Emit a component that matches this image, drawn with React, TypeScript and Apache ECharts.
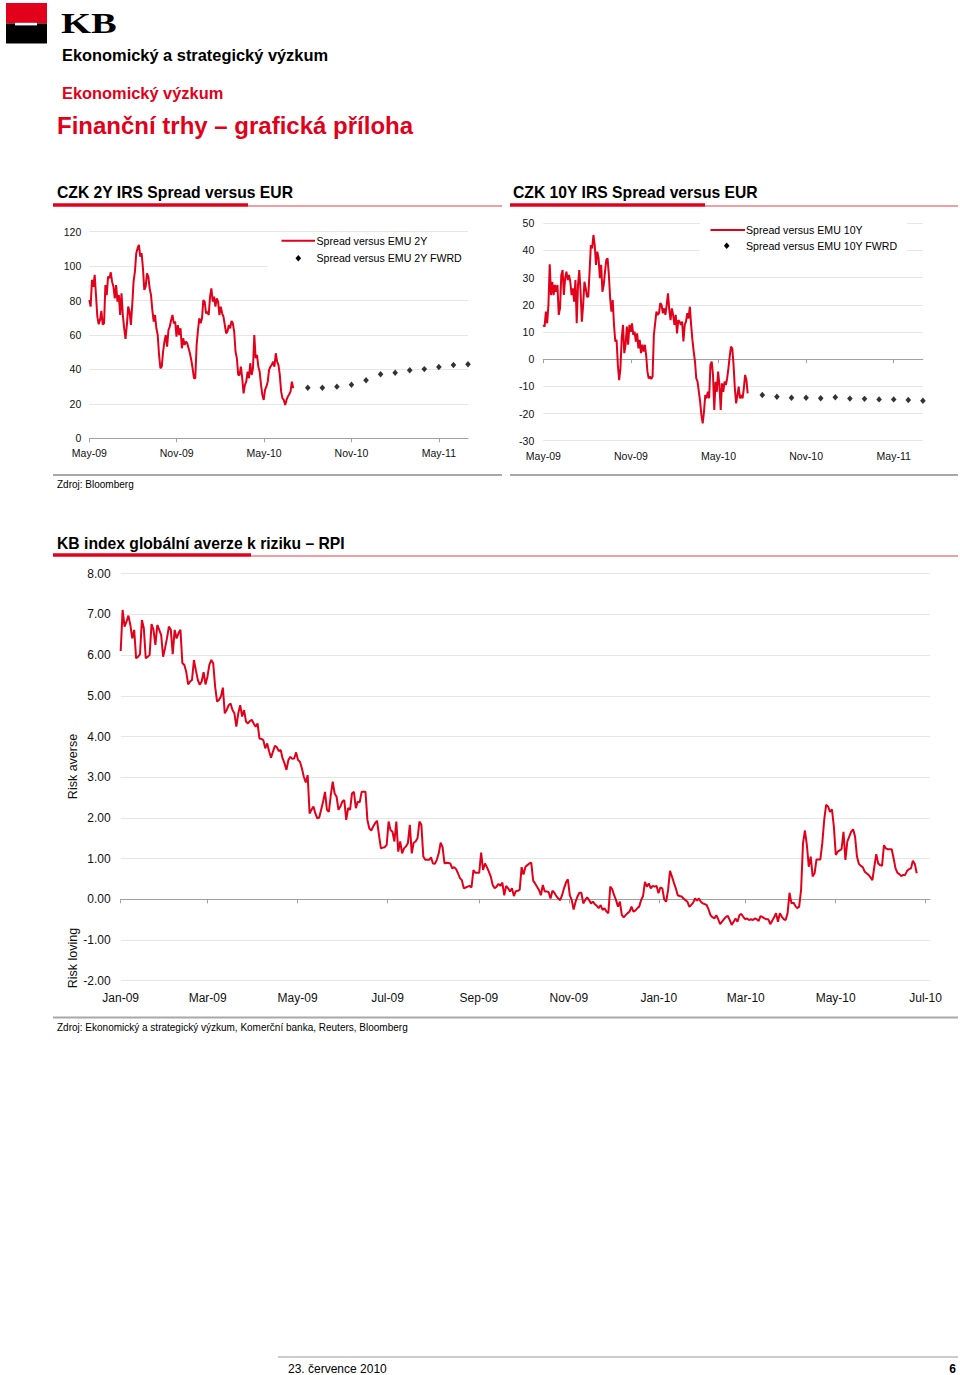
import React, { useEffect, useRef } from 'react';
import * as echarts from 'echarts';

const RED = '#e2001a';
const FONT = '"Liberation Sans", Arial, Helvetica, sans-serif';
const GRID_COLOR = '#e6e6e6';
const AXIS_COLOR = '#a0a0a0';
const TEXT_COLOR = '#111';

// ---------- Chart 1 & 2: CZK IRS spreads (x axis in months from May-09) ----------
const spreadTickLabels = ['May-09', 'Nov-09', 'May-10', 'Nov-10', 'May-11'];
const spreadAxisStart = '2009-05';
const spreadAxisEnd = '2011-07';
const spreadHistStart = '2009-05';
const spreadHistEnd = '2010-07';
const fwdMonths = ['2010-08', '2010-09', '2010-10', '2010-11', '2010-12', '2011-01', '2011-02', '2011-03', '2011-04', '2011-05', '2011-06', '2011-07'];

const spread2Y = [
  80.3, 76.5, 92, 88, 95, 83, 70.7, 66.2, 68.7, 74, 66, 66.8, 89, 83.2, 93.9, 93, 96.4, 91, 88, 81.3,
  89, 79.4, 83.2, 71.6, 84.2, 71.6, 63.9, 57.7, 65.8, 76.5, 73.6, 65.8, 77.4, 91, 96.8, 107.5, 110.4, 112.3, 105.5, 107.5,
  98.7, 86.2, 88.1, 95.8, 93.9, 87.1, 83.2, 74.5, 67.8, 71.6, 63.9, 60, 48.4, 40.7, 41.6, 50.3, 56.1, 60, 53.2, 62.9,
  64.9, 68.7, 71.6, 66.8, 67.8, 59.1, 65.8, 60, 63.9, 52.3, 58.1, 54.2, 56.1, 55.2, 52.3, 49.4, 45.5, 40.7, 34.9, 34.9,
  54.2, 62.9, 69.7, 66.8, 69.7, 80.3, 79.4, 72.6, 73.6, 71.6, 82.3, 87.1, 79.4, 82.3, 76.5, 81.3, 79.4, 71.6, 76.5, 72.6,
  70.7, 65.8, 61, 62, 65.8, 63.9, 68.2, 66.8, 62, 50.3, 46.5, 36.8, 36.8, 41.6, 34.9, 26.1, 31, 32.9, 38.7, 34.9,
  43.6, 36.8, 40.7, 60, 46.5, 48.4, 41.6, 38.7, 31, 25.2, 22.3, 28.1, 30, 32.9, 39.7, 41.6, 42.6, 44.5, 41.6, 49.4,
  44.5, 42.6, 36.8, 27.1, 23.2, 22.3, 19.4, 22.3, 24.2, 25.6, 27.1, 32.9, 29.1,
];
const fwd2Y = [29.4, 29.4, 30.0, 31.1, 33.7, 37.2, 38.1, 39.5, 40.2, 41.4, 42.6, 43.0];

const spread10Y = [
  12.6, 12, 17.5, 13.2, 20, 34.9, 23.6, 28.5, 23.6, 27.3, 24.8, 27.3, 16.3, 18.7, 31, 32.8, 23.6, 29.8, 32.2, 29.1,
  31, 28.5, 23.6, 26.1, 21.2, 29.1, 13.2, 27.3, 32.8, 24.8, 13.8, 20, 28.5, 26.1, 23, 23, 32.2, 42, 40.8, 45.7,
  42, 34.7, 39.6, 37.1, 29.8, 34.7, 24.8, 27.3, 32.2, 36.5, 37.1, 31, 22.4, 17.5, 21.8, 12.6, 6.5, 7.1, -2.1, -7.7,
  -3.4, 7.7, 12.6, 2.2, 5.3, 12, 5.3, 12.6, 10.1, 13.2, 8.9, 10.1, 6.5, 9.5, 4, 7.1, 2.2, 5.3, 2.8, 5.3,
  1.5, -4.6, -7.1, -6.4, -7.3, -6.4, 8.9, 13.2, 17.5, 16.3, 16.9, 20.6, 20, 16.9, 18.7, 16.3, 20, 24.2, 18.1, 14.4,
  18.7, 16.3, 12.6, 16.3, 9.5, 14.4, 13.8, 12.6, 13.8, 6.5, 12.6, 13.8, 16.9, 15, 19.3, 12.6, 7.1, 2.8, -0.9, -7.1,
  -8.3, -12, -15.6, -20.6, -23.6, -19.3, -13.2, -14.4, -12, -14.4, -2.1, -0.9, -5.8, -18.7, -8.3, -12, -4.6, -9.5, -18.7, -8.9,
  -12, -8.3, -9.5, -7.1, -3.4, 1, 4.6, 4, -2.1, -10.7, -16.3, -13.2, -10.1, -14.4, -13.2, -14.4, -10.7, -5.8, -7.7, -12.6,
];
const fwd10Y = [-13.2, -13.8, -14.2, -14.2, -14.4, -14.0, -14.5, -14.6, -14.8, -14.8, -15.0, -15.3];

// ---------- Chart 3: KB risk perception index ----------
const rpiTickMonths = ['2009-01', '2009-03', '2009-05', '2009-07', '2009-09', '2009-11', '2010-01', '2010-03', '2010-05', '2010-07'];
const rpiAxisStart = '2009-01-01';
const rpiAxisEnd = '2010-07-04';
const rpiStart = '2009-01-01';
const rpiEnd = '2010-06-25';
const rpiValues = [
  6.10, 7.11, 6.70, 6.82, 6.97, 6.74, 6.41, 6.62, 5.92, 5.96,
  6.02, 6.86, 6.66, 5.92, 5.96, 6.00, 6.76, 6.62, 6.25, 6.74,
  6.62, 6.49, 5.96, 6.17, 6.41, 6.70, 6.62, 6.02, 6.62, 6.41,
  6.54, 6.62, 5.80, 5.76, 5.59, 5.28, 5.35, 5.39, 5.88, 5.63,
  5.39, 5.27, 5.35, 5.58, 5.28, 5.47, 5.76, 5.88, 5.80, 5.22,
  4.86, 4.90, 4.98, 5.20, 4.57, 4.65, 4.77, 4.81, 4.65, 4.57,
  4.24, 4.57, 4.77, 4.49, 4.65, 4.37, 4.32, 4.38, 4.41, 4.32,
  4.24, 4.32, 3.95, 3.94, 3.91, 3.71, 3.83, 3.63, 3.48, 3.63,
  3.77, 3.74, 3.64, 3.67, 3.46, 3.34, 3.18, 3.42, 3.50, 3.45,
  3.46, 3.61, 3.42, 3.38, 3.22, 3.01, 2.87, 3.05,
  2.11, 2.20, 2.28, 2.11, 1.99, 2.01, 2.20, 2.40, 2.64, 2.20,
  2.15, 2.56, 2.89, 2.60, 2.52, 2.20, 2.28, 2.40, 2.44, 1.95,
  2.24, 2.20, 2.60, 2.64, 2.24, 2.40, 2.38, 2.64, 2.64, 2.64,
  1.95, 1.74, 1.69, 1.79, 1.87, 1.93, 1.58, 1.25, 1.27, 1.28,
  1.34, 1.91, 1.70, 1.66, 1.42, 1.91, 1.17, 1.42, 1.13, 1.25,
  1.30, 1.38, 1.83, 1.13, 1.39, 1.42, 1.50, 1.91, 1.83, 1.05,
  0.97, 0.97, 0.97, 1.03, 0.88, 0.87, 0.97, 1.13, 1.39, 1.28,
  0.88, 0.90, 0.89, 0.88, 0.76, 0.79, 0.74, 0.64, 0.52, 0.47,
  0.27, 0.29, 0.31, 0.33, 0.29, 0.72, 0.65, 0.65, 0.65, 1.15,
  0.72, 0.88, 0.79, 0.68, 0.56, 0.35, 0.27, 0.31, 0.38,
  0.33, 0.41, 0.10, 0.33, 0.27, 0.19, 0.27, 0.08, 0.20, 0.21,
  0.23, 0.79, 0.61, 0.80, 0.84, 0.88, 0.90, 0.46, 0.39, 0.31,
  0.23, 0.10, 0.35, 0.19, 0.19, 0.18, 0.02, 0.21, 0.16, 0.08,
  0.02, -0.02, 0.10, 0.27, 0.41, 0.49, 0.10, -0.02, -0.25, -0.06,
  0.07, 0.16, 0.16, -0.10, -0.02, 0.05, -0.02, -0.10, -0.06, -0.12,
  -0.16, -0.22, -0.14, -0.26, -0.22, -0.30, -0.34, 0.31, 0.25, 0.10,
  -0.02, -0.18, -0.06, -0.39, -0.44, -0.39, -0.34, -0.30, -0.18, -0.30,
  -0.28, -0.22, -0.18, -0.02, 0.08, 0.43, 0.31, 0.39, 0.27, 0.33,
  0.31, 0.33, 0.15, 0.29, 0.27, 0.00, -0.06, 0.23, 0.70, 0.56,
  0.41, 0.27, 0.10, 0.08, 0.07, 0.02, -0.02, -0.06, -0.18, -0.14,
  -0.08, 0.02, -0.03, 0.02, -0.06, -0.10, -0.12, -0.14, -0.25, -0.39,
  -0.44, -0.47, -0.39, -0.49, -0.61, -0.55, -0.49, -0.43, -0.41, -0.51,
  -0.63, -0.55, -0.47, -0.55, -0.39, -0.36, -0.43, -0.49, -0.47, -0.51,
  -0.49, -0.51, -0.47, -0.49, -0.53, -0.41, -0.44, -0.47, -0.49, -0.49,
  -0.61, -0.53, -0.44, -0.34, -0.55, -0.34, -0.43, -0.49, -0.51, -0.34,
  0.16, -0.10, -0.08, -0.16, -0.22, -0.18, 0.23, 1.38, 1.69, 1.33,
  0.80, 1.05, 0.56, 0.64, 0.98, 0.98, 0.98, 1.38, 1.95, 2.32,
  2.28, 2.15, 2.21, 1.79, 1.09, 1.17, 1.20, 1.23, 1.66, 0.97,
  1.42, 1.54, 1.66, 1.72, 1.54, 1.05, 0.87, 0.82, 0.79, 0.68,
  0.64, 0.60, 0.54, 0.47, 0.80, 1.11, 0.88, 0.84, 0.82, 1.33,
  1.25, 1.23, 1.23, 1.23, 1.01, 0.76, 0.65, 0.62, 0.57, 0.60,
  0.60, 0.70, 0.74, 0.76, 0.95, 0.87, 0.64,
];

// ---------- helpers ----------
const MON = ['Jan', 'Feb', 'Mar', 'Apr', 'May', 'Jun', 'Jul', 'Aug', 'Sep', 'Oct', 'Nov', 'Dec'];
const monthIdx = (s: string) => {
  const [y, m] = s.split('-').map(Number);
  const [by, bm] = spreadAxisStart.split('-').map(Number);
  return (y - by) * 12 + (m - bm);
};
const ts = (s: string) => {
  const p = s.split('-').map(Number);
  return Date.UTC(p[0], p[1] - 1, p[2] || 1);
};
const evenSeries = (vals: number[], a: number, b: number) =>
  vals.map((v, i) => [a + (i * (b - a)) / (vals.length - 1), v]);

const spreadTicks = spreadTickLabels.map((_, i) => i * 6);
const spreadFmt = (v: number) => spreadTickLabels[Math.round(v / 6)] ?? '';
const rpiTicks = rpiTickMonths.map((m) => ts(m));
const rpiFmt = (v: number) => {
  const d = new Date(v);
  return `${MON[d.getUTCMonth()]}-${String(d.getUTCFullYear() % 100).padStart(2, '0')}`;
};

const txt = (text: string, x: number, y: number, font: string, fill = TEXT_COLOR, extra: any = {}) => ({
  type: 'text',
  x,
  y,
  z: 100,
  ...extra,
  style: { text, font, fill, textAlign: extra.align || 'left', textVerticalAlign: 'middle' },
});
const hline = (x1: number, x2: number, y: number, stroke: string, lineWidth: number) => ({
  type: 'line',
  z: 100,
  shape: { x1, y1: y, x2, y2: y },
  style: { stroke, lineWidth },
});
const diamond = (x: number, y: number) => ({
  type: 'polygon',
  z: 101,
  shape: { points: [[x, y - 3.2], [x + 2.8, y], [x, y + 3.2], [x - 2.8, y]] },
  style: { fill: '#000' },
});

function buildOption(): any {
  const histA = monthIdx(spreadHistStart);
  const histB = monthIdx(spreadHistEnd);
  const axMax = monthIdx(spreadAxisEnd);
  const fwdX = fwdMonths.map((m) => monthIdx(m));

  const titleFont = `bold 15.7px ${FONT}`;
  const legendFont = `10.6px ${FONT}`;
  const srcFont = `10px ${FONT}`;

  const spreadXAxis = (grid: number, opts: any) => ({
    type: 'value',
    gridIndex: grid,
    min: 0,
    max: axMax,
    position: 'bottom',
    splitLine: { show: false },
    ...opts,
  });

  const graphic: any[] = [
    // logo
    { type: 'rect', z: 100, shape: { x: 6, y: 3, width: 41, height: 20.5 }, style: { fill: RED } },
    { type: 'rect', z: 100, shape: { x: 6, y: 23.5, width: 41, height: 20 }, style: { fill: '#000' } },
    { type: 'rect', z: 101, shape: { x: 15, y: 22.8, width: 22, height: 2.6 }, style: { fill: '#fff' } },
    txt('KB', 61, 23.5, `bold 29px "Liberation Serif", "DejaVu Serif", serif`, '#000', { scaleX: 1.33 }),
    txt('Ekonomický a strategický výzkum', 62, 54.5, `bold 16.4px ${FONT}`, '#000'),
    txt('Ekonomický výzkum', 62, 93, `bold 16.4px ${FONT}`, RED),
    txt('Finanční trhy – grafická příloha', 57, 125, `bold 24px ${FONT}`, RED),

    // section titles
    txt('CZK 2Y IRS Spread versus EUR', 57, 192.5, titleFont, '#000'),
    hline(53, 248, 205, RED, 3.3),
    hline(248, 502, 206, '#e04048', 1),
    txt('CZK 10Y IRS Spread versus EUR', 513, 192.5, titleFont, '#000'),
    hline(510, 705, 205, RED, 3.3),
    hline(705, 958, 206, '#e04048', 1),

    // legend chart 1
    { type: 'rect', z: 99, shape: { x: 268, y: 234, width: 202, height: 36 }, style: { fill: '#fff' } },
    hline(281.5, 315, 240.7, RED, 2),
    txt('Spread versus EMU 2Y', 316.5, 240.7, legendFont, '#000'),
    diamond(298.3, 258.3),
    txt('Spread versus EMU 2Y FWRD', 316.5, 258.3, legendFont, '#000'),

    // legend chart 2
    { type: 'rect', z: 99, shape: { x: 700, y: 217, width: 207, height: 38 }, style: { fill: '#fff' } },
    hline(710.5, 745, 230, RED, 2),
    txt('Spread versus EMU 10Y', 746, 230, legendFont, '#000'),
    diamond(726.7, 245.7),
    txt('Spread versus EMU 10Y FWRD', 746, 245.7, legendFont, '#000'),

    hline(53, 502, 475, '#a8a8a8', 2),
    hline(510, 958, 475, '#a8a8a8', 2),
    txt('Zdroj: Bloomberg', 57, 484.5, srcFont, '#000'),

    // chart 3 title
    txt('KB index globální averze k riziku – RPI', 57, 543, titleFont, '#000'),
    hline(53, 251, 555, RED, 3.3),
    hline(251, 958, 556, '#e04048', 1),
    txt('Risk averse', 73, 766.5, `12.5px ${FONT}`, TEXT_COLOR, { rotation: Math.PI / 2, align: 'center' }),
    txt('Risk loving', 73, 958, `12.5px ${FONT}`, TEXT_COLOR, { rotation: Math.PI / 2, align: 'center' }),
    hline(53, 958, 1017.5, '#a8a8a8', 2),
    txt('Zdroj: Ekonomický a strategický výzkum, Komerční banka, Reuters, Bloomberg', 57, 1027.5, srcFont, '#000'),

    // footer
    hline(278, 958, 1357, '#9a9a9a', 1),
    txt('23. července 2010', 288, 1369, `12px ${FONT}`, '#000'),
    txt('6', 956, 1369, `bold 12px ${FONT}`, '#000', { align: 'right' }),
  ];

  const yAxisBase = (grid: number, min: number, max: number, interval: number, fontSize: number, margin: number, fmt?: any) => ({
    type: 'value',
    gridIndex: grid,
    min,
    max,
    interval,
    axisLine: { show: false },
    axisTick: { show: false },
    axisLabel: { fontSize, margin, color: TEXT_COLOR, fontFamily: FONT, formatter: fmt },
    splitLine: { show: true, lineStyle: { color: GRID_COLOR, width: 1 } },
  });

  return {
    animation: false,
    backgroundColor: '#fff',
    textStyle: { fontFamily: FONT },
    grid: [
      { left: 89.3, top: 231.7, width: 378.7, height: 206.6 },
      { left: 543.3, top: 223.3, width: 379.6, height: 217.4 },
      { left: 120.7, top: 573.7, width: 809.3, height: 407 },
    ],
    xAxis: [
      spreadXAxis(0, {
        axisLine: { show: true, lineStyle: { color: AXIS_COLOR, width: 1 } },
        axisTick: { show: true, length: 4, customValues: spreadTicks, lineStyle: { color: AXIS_COLOR } },
        axisLabel: { customValues: spreadTicks, formatter: spreadFmt, fontSize: 10.5, margin: 9, color: TEXT_COLOR },
      }),
      spreadXAxis(1, {
        axisLine: { show: false, onZero: false },
        axisTick: { show: false },
        axisLabel: { customValues: spreadTicks, formatter: spreadFmt, fontSize: 10.5, margin: 10, color: TEXT_COLOR },
      }),
      spreadXAxis(1, {
        axisLine: { show: true, onZero: true, lineStyle: { color: AXIS_COLOR, width: 1 } },
        axisTick: { show: true, length: 4, customValues: spreadTicks, lineStyle: { color: AXIS_COLOR } },
        axisLabel: { show: false },
      }),
      {
        type: 'value',
        gridIndex: 2,
        min: ts(rpiAxisStart),
        max: ts(rpiAxisEnd),
        position: 'bottom',
        splitLine: { show: false },
        axisLine: { show: false, onZero: false },
        axisTick: { show: false },
        axisLabel: { customValues: rpiTicks, formatter: rpiFmt, fontSize: 12, margin: 11, color: TEXT_COLOR },
      },
      {
        type: 'value',
        gridIndex: 2,
        min: ts(rpiAxisStart),
        max: ts(rpiAxisEnd),
        position: 'bottom',
        splitLine: { show: false },
        axisLine: { show: true, onZero: true, lineStyle: { color: AXIS_COLOR, width: 1 } },
        axisTick: { show: true, length: 4, customValues: rpiTicks, lineStyle: { color: AXIS_COLOR } },
        axisLabel: { show: false },
      },
    ],
    yAxis: [
      yAxisBase(0, 0, 120, 20, 10.5, 8),
      yAxisBase(1, -30, 50, 10, 10.5, 9),
      yAxisBase(2, -2, 8, 1, 12, 10, (v: number) => v.toFixed(2)),
    ],
    series: [
      {
        name: 'Spread versus EMU 2Y',
        type: 'line',
        xAxisIndex: 0,
        yAxisIndex: 0,
        data: evenSeries(spread2Y, histA, histB),
        symbol: 'none',
        lineStyle: { color: RED, width: 2 },
        z: 5,
      },
      {
        name: 'Spread versus EMU 2Y FWRD',
        type: 'scatter',
        xAxisIndex: 0,
        yAxisIndex: 0,
        data: fwdX.map((x, i) => [x, fwd2Y[i]]),
        symbol: 'diamond',
        symbolSize: [5.6, 6.4],
        itemStyle: { color: '#000' },
        z: 5,
      },
      {
        name: 'Spread versus EMU 10Y',
        type: 'line',
        xAxisIndex: 1,
        yAxisIndex: 1,
        data: evenSeries(spread10Y, histA, histB),
        symbol: 'none',
        lineStyle: { color: RED, width: 2 },
        z: 5,
      },
      {
        name: 'Spread versus EMU 10Y FWRD',
        type: 'scatter',
        xAxisIndex: 1,
        yAxisIndex: 1,
        data: fwdX.map((x, i) => [x, fwd10Y[i]]),
        symbol: 'diamond',
        symbolSize: [5.6, 6.4],
        itemStyle: { color: '#000' },
        z: 5,
      },
      {
        name: 'RPI',
        type: 'line',
        xAxisIndex: 3,
        yAxisIndex: 2,
        data: evenSeries(rpiValues, ts(rpiStart), ts(rpiEnd)),
        symbol: 'none',
        lineStyle: { color: RED, width: 2 },
        z: 5,
      },
    ],
    graphic,
  };
}

export default function App() {
  const ref = useRef<HTMLDivElement>(null);
  useEffect(() => {
    if (!ref.current) return;
    const chart = echarts.init(ref.current, null, { renderer: 'svg' });
    chart.setOption(buildOption());
    return () => chart.dispose();
  }, []);
  return (
    <div
      ref={ref}
      style={{ position: 'absolute', left: 0, top: 0, width: 960, height: 1375, background: '#fff' }}
    />
  );
}
